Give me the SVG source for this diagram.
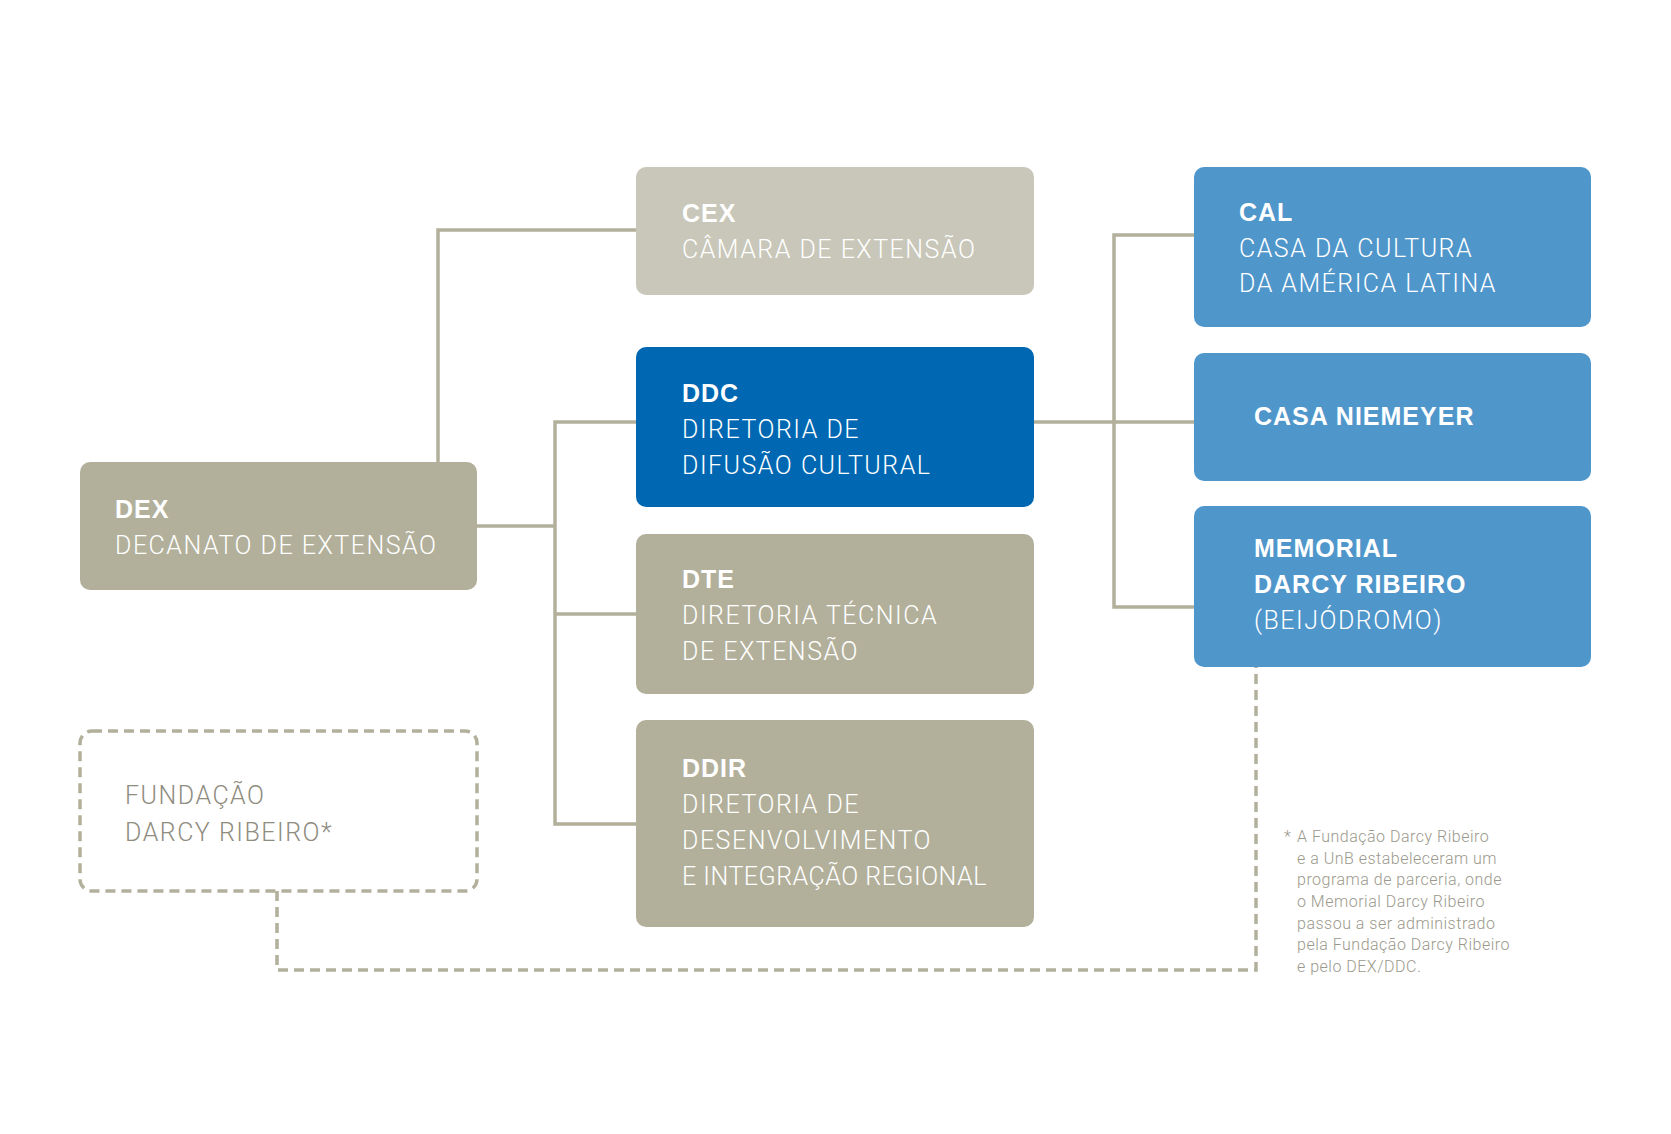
<svg xmlns="http://www.w3.org/2000/svg" width="1671" height="1134" viewBox="0 0 1671 1134">
<style>
.bg{fill:#ffffff}
.tan{fill:#b2b09b}
.light{fill:#c8c7b9}
.dark{fill:#0068b2}
.blue{fill:#4f96cb}
.t{font-family:Roboto,"Liberation Sans",sans-serif;font-size:25px;fill:#ffffff;font-weight:300;letter-spacing:1.5px}
.b{font-family:"Liberation Sans",Arial,sans-serif;font-weight:700;letter-spacing:1px}
.tight{letter-spacing:0.5px}
.conn{fill:none;stroke:#b2b09b;stroke-width:3.5}
.dash{fill:none;stroke:#b2b09b;stroke-width:3.5;stroke-dasharray:10 6}
.g{fill:#8f8c80}
.note{font-family:Roboto,"Liberation Sans",sans-serif;font-size:16px;fill:#9b998c;font-weight:300;letter-spacing:0.5px}
</style>
<rect class="bg" x="0" y="0" width="1671" height="1134"/>
<g id="connectors">
<path class="conn" d="M438 462 V230 H636"/>
<path class="conn" d="M477 526 H555"/>
<path class="conn" d="M636 422 H555 V824 H636"/>
<path class="conn" d="M555 614 H636"/>
<path class="conn" d="M1034 422 H1194"/>
<path class="conn" d="M1194 235 H1114 V607 H1194"/>
<path class="dash" d="M277 891 V970 H1256 V667"/>
</g>
<g id="dex">
<rect class="tan" x="80" y="462" width="397" height="128" rx="10"/>
<text class="t b" x="115" y="518">DEX</text>
<text class="t" x="115" y="554">DECANATO DE EXTENSÃO</text>
</g>
<g id="cex">
<rect class="light" x="636" y="167" width="398" height="128" rx="10"/>
<text class="t b" x="682" y="222">CEX</text>
<text class="t" x="682" y="258">CÂMARA DE EXTENSÃO</text>
</g>
<g id="ddc">
<rect class="dark" x="636" y="347" width="398" height="160" rx="10"/>
<text class="t b" x="682" y="402">DDC</text>
<text class="t" x="682" y="438">DIRETORIA DE</text>
<text class="t" x="682" y="474">DIFUSÃO CULTURAL</text>
</g>
<g id="dte">
<rect class="tan" x="636" y="534" width="398" height="160" rx="10"/>
<text class="t b" x="682" y="588">DTE</text>
<text class="t" x="682" y="624">DIRETORIA TÉCNICA</text>
<text class="t" x="682" y="660">DE EXTENSÃO</text>
</g>
<g id="ddir">
<rect class="tan" x="636" y="720" width="398" height="207" rx="10"/>
<text class="t b" x="682" y="777">DDIR</text>
<text class="t" x="682" y="813">DIRETORIA DE</text>
<text class="t" x="682" y="849">DESENVOLVIMENTO</text>
<text class="t tight" x="682" y="885">E INTEGRAÇÃO REGIONAL</text>
</g>
<g id="cal">
<rect class="blue" x="1194" y="167" width="397" height="160" rx="10"/>
<text class="t b" x="1239" y="221">CAL</text>
<text class="t" x="1239" y="257">CASA DA CULTURA</text>
<text class="t" x="1239" y="292">DA AMÉRICA LATINA</text>
</g>
<g id="niemeyer">
<rect class="blue" x="1194" y="353" width="397" height="128" rx="10"/>
<text class="t b" x="1254" y="425">CASA NIEMEYER</text>
</g>
<g id="memorial">
<rect class="blue" x="1194" y="506" width="397" height="161" rx="10"/>
<text class="t b" x="1254" y="557">MEMORIAL</text>
<text class="t b" x="1254" y="593">DARCY RIBEIRO</text>
<text class="t" x="1254" y="629">(BEIJÓDROMO)</text>
</g>
<g id="fundacao">
<rect class="dash" x="80" y="731" width="397" height="160" rx="12"/>
<text class="t g" x="125" y="804">FUNDAÇÃO</text>
<text class="t g" x="125" y="841">DARCY RIBEIRO*</text>
</g>
<g id="footnote">
<text class="note" x="1284" y="842">*</text>
<text class="note" x="1297" y="842">A Fundação Darcy Ribeiro</text>
<text class="note" x="1297" y="864">e a UnB estabeleceram um</text>
<text class="note" x="1297" y="885">programa de parceria, onde</text>
<text class="note" x="1297" y="907">o Memorial Darcy Ribeiro</text>
<text class="note" x="1297" y="929">passou a ser administrado</text>
<text class="note" x="1297" y="950">pela Fundação Darcy Ribeiro</text>
<text class="note" x="1297" y="972">e pelo DEX/DDC.</text>
</g>
</svg>
